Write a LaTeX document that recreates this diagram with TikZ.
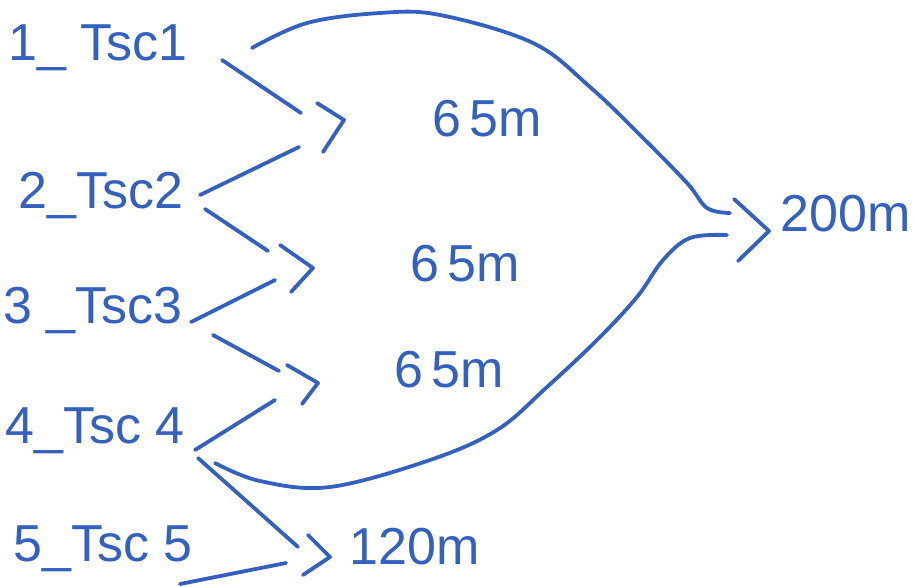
\documentclass[tikz,border=0pt]{standalone}
\usepackage{fontspec}
\setmainfont{Liberation Sans}
\definecolor{pen}{RGB}{52,96,190}
\begin{document}
\begin{tikzpicture}[x=0.5pt,y=-0.5pt,color=pen,line width=1.9pt,line cap=round,line join=round,
	lbl/.style={font=\fontsize{26}{30}\selectfont,inner sep=0pt},
	len/.style={font=\fontsize{26}{30}\selectfont,inner sep=0pt}]
	\useasboundingbox (0,0) rectangle (914,587);

	% Pipes
	\node[lbl] (t1) at (98,48) {1\_ Tsc1};
	\node[lbl] (t2) at (101,196) {2\_Tsc2};
	\node[lbl] (t3) at (93,311) {3 \_Tsc3};
	\node[lbl] (t4) at (95,431) {4\_Tsc 4};
	\node[lbl] (t5) at (103,549) {5\_Tsc 5};

	% Lengths
	\node[len] (m12) at (487,119) {6\,5m};
	\node[len] (m23) at (465,264) {6\,5m};
	\node[len] (m34) at (449,370) {6\,5m};
	\node[len] (m45) at (415,547) {120m};
	\node[len] (mall) at (846,214) {200m};

	% Stroke ends
	\coordinate (a1) at (222,60);   \coordinate (b1) at (301,113);
	\coordinate (a2) at (200,195);  \coordinate (b2) at (299,147);
	\coordinate (a3) at (205,209);  \coordinate (b3) at (268,251);
	\coordinate (a4) at (191,322);  \coordinate (b4) at (275,280);
	\coordinate (a5) at (213,335);  \coordinate (b5) at (279,371);
	\coordinate (a6) at (195,450);  \coordinate (b6) at (275,400);
	\coordinate (a7) at (198,458);  \coordinate (b7) at (298,547);
	\coordinate (a8) at (180,584);  \coordinate (b8) at (286,563);

	% Joins
	\draw (a1) -- (b1);
	\draw (a2) -- (b2);
	\draw (317,103) -- (344,120) -- (323,152);

	\draw (a3) -- (b3);
	\draw (a4) -- (b4);
	\draw (280,245) -- (313,268) -- (291,292);

	\draw (a5) -- (b5);
	\draw (a6) -- (b6);
	\draw (287,365) -- (318,383) -- (302,404);

	\draw (a7) -- (b7);
	\draw (a8) -- (b8);
	\draw (308,535) -- (330,557) -- (303,575);

	% Total
	\draw plot[smooth,tension=0.6] coordinates {(252,48) (307,23) (380,13) (440,15) (533,43) (590,87) (640,135) (687,183) (707,208) (730,213)};
	\draw plot[smooth,tension=0.6] coordinates {(215,463) (260,481) (330,487) (430,460) (497,430) (547,387) (597,340) (637,297) (663,260) (690,238) (727,235)};
	\draw (734,199) -- (769,231) -- (738,261);
\end{tikzpicture}
\end{document}
